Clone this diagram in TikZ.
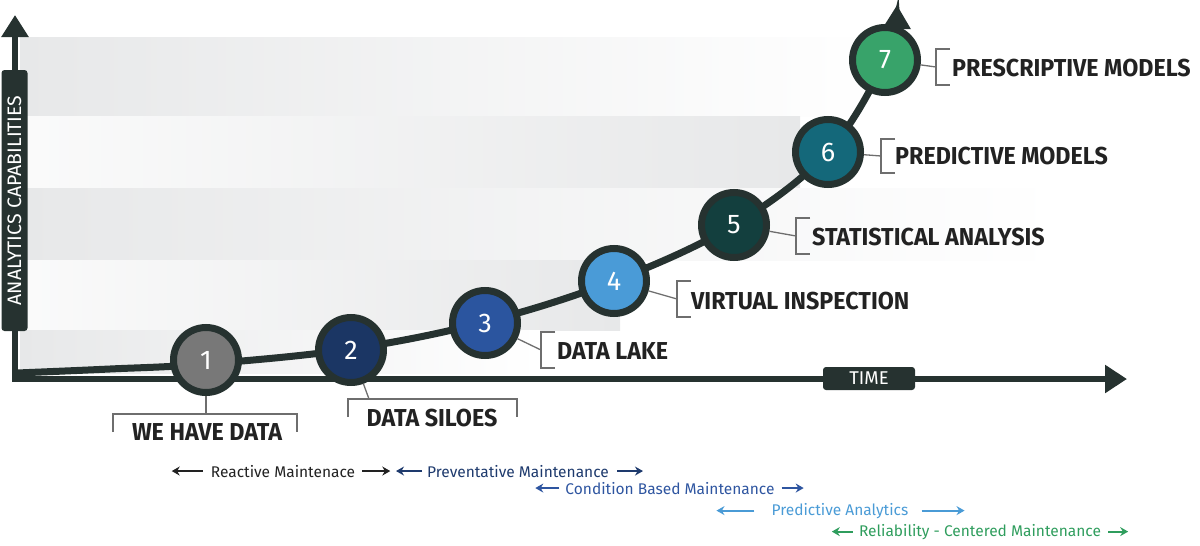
\documentclass[tikz,border=0pt]{standalone}
\usepackage{fontspec}
\setmainfont{Fira Sans}
\newfontfamily\lblfont{Fira Sans}[FakeStretch=0.95]
\usetikzlibrary{arrows.meta, positioning, calc}
\definecolor{axiscol}{RGB}{38,50,48}
\definecolor{bandgray}{RGB}{231,232,233}
\definecolor{brkgray}{RGB}{110,110,110}
\definecolor{lblcol}{RGB}{34,34,34}
\definecolor{st1}{RGB}{120,120,120}
\definecolor{st2}{RGB}{27,54,100}
\definecolor{st3}{RGB}{43,85,159}
\definecolor{st4}{RGB}{74,155,215}
\definecolor{st5}{RGB}{19,63,62}
\definecolor{st6}{RGB}{20,104,122}
\definecolor{st7}{RGB}{56,163,106}
\definecolor{reactcol}{RGB}{34,34,34}
\definecolor{prevcol}{RGB}{30,58,109}
\definecolor{condcol}{RGB}{46,85,160}
\definecolor{predcol}{RGB}{74,155,214}
\definecolor{relcol}{RGB}{47,157,93}
\tikzstyle{stage} = [circle, draw=axiscol, line width=7pt, minimum size=65pt, inner sep=0pt, text=white!88, font=\fontsize{27}{27}\selectfont]
\tikzstyle{brk} = [draw=brkgray, line width=1.3pt]
\tikzstyle{lbl} = [inner sep=0pt, text=lblcol, font=\lblfont\bfseries\fontsize{24.5}{25}\selectfont]
\tikzstyle{mtxt} = [inner sep=0pt, anchor=base, font=\fontsize{15.5}{16}\selectfont]
\tikzstyle{marr} = [line width=2.2pt, -{Stealth[length=8pt,width=9pt]}]
\tikzstyle{axis} = [draw=axiscol, line width=6.5pt, line join=miter]
\tikzstyle{tag} = [fill=axiscol, rounded corners=3pt, text=white, inner sep=0pt]

\begin{document}
\begin{tikzpicture}[x=1pt, y=-1pt]
    \useasboundingbox (0,0) rectangle (1200,546);
    % background bands
    \shade[left color=bandgray, right color=white] (20,37) rectangle (880,116);
    \shade[left color=bandgray!20, right color=bandgray] (20,116) rectangle (800,188);
    \shade[left color=bandgray, right color=white] (20,188) rectangle (1057,260);
    \shade[left color=bandgray!20, right color=bandgray] (20,260) rectangle (620,330);
    \shade[left color=bandgray, right color=white] (20,330) rectangle (540,373);

    % axes
    \coordinate (o) at (15,379);
    \coordinate (ytip) at (15,15);
    \coordinate (xtip) at (1127,379);
    \draw [axis, {Triangle[length=22pt,width=26pt]}-{Triangle[length=22pt,width=27pt]}] (ytip) -- (o) -- (xtip);
    \node (ylab) [tag, rotate=90, minimum width=261pt, minimum height=26pt, font=\fontsize{19.5}{20}\selectfont] at (14.5,200.5) {ANALYTICS CAPABILITIES};
    \node (xlab) [tag, minimum width=92pt, minimum height=23pt, font=\fontsize{18.5}{19}\selectfont] at (869,378.5) {TIME};

    % growth curve
    \draw [axiscol, line width=7pt, -{Triangle[length=24pt,width=27pt]}] plot [smooth, tension=0.6] coordinates {(17,373) (110,369) (206,364) (351,349) (485,322) (614,281) (734,225) (828,152) (885,60) (897,5)};

    % stages
    \node (n1) [stage, fill=st1] at (206,360) {1};
    \node (n2) [stage, fill=st2] at (351,350) {2};
    \node (n3) [stage, fill=st3] at (485,323) {3};
    \node (n4) [stage, fill=st4] at (614,281) {4};
    \node (n5) [stage, fill=st5] at (734,225) {5};
    \node (n6) [stage, fill=st6] at (828,152) {6};
    \node (n7) [stage, fill=st7] at (885,60) {7};

    % labels and brackets
    \node (t1) [lbl] at (207,432) {WE HAVE DATA};
    \coordinate (b1) at (206,414);
    \draw [brk] (n1) -- (b1);
    \draw [brk] ($(b1)+(-93,18)$) -- ++(0,-18) -- ++(184,0) -- ++(0,18);

    \node (t2) [lbl] at (432,418) {DATA SILOES};
    \coordinate (b2) at (369,399);
    \draw [brk] (n2) -- (b2);
    \draw [brk] ($(b2)+(-21,18)$) -- ++(0,-18) -- ++(169,0) -- ++(0,18);

    \node (t3) [lbl, anchor=west] at (557,351) {DATA LAKE};
    \coordinate (b3) at (541,350);
    \draw [brk] (n3) -- (b3);
    \draw [brk] ($(b3)+(14,-18)$) -| ($(b3)+(0,18)$) -- ++(14,0);

    \node (t4) [lbl, anchor=west] at (691,301) {VIRTUAL INSPECTION};
    \coordinate (b4) at (677,299);
    \draw [brk] (n4) -- (b4);
    \draw [brk] ($(b4)+(14,-18)$) -| ($(b4)+(0,18)$) -- ++(14,0);

    \node (t5) [lbl, anchor=west] at (812,237) {STATISTICAL ANALYSIS};
    \coordinate (b5) at (796,236);
    \draw [brk] (n5) -- (b5);
    \draw [brk] ($(b5)+(14,-18)$) -| ($(b5)+(0,18)$) -- ++(14,0);

    \node (t6) [lbl, anchor=west] at (895,156) {PREDICTIVE MODELS};
    \coordinate (b6) at (881,156);
    \draw [brk] (n6) -- (b6);
    \draw [brk] ($(b6)+(14,-17)$) -| ($(b6)+(0,17)$) -- ++(14,0);

    \node (t7) [lbl, anchor=west] at (952,68) {PRESCRIPTIVE MODELS};
    \coordinate (b7) at (936,67);
    \draw [brk] (n7) -- (b7);
    \draw [brk] ($(b7)+(14,-18)$) -| ($(b7)+(0,18)$) -- ++(14,0);

    % maintenance spans
    \node (m1) [mtxt, text=reactcol] at (283,477) {Reactive Maintenace};
    \draw [marr, reactcol] ([xshift=-8pt]m1.west) -- ++(-31,0);
    \draw [marr, reactcol] ([xshift=7pt]m1.east) -- ++(28,0);

    \node (m2) [mtxt, text=prevcol] at (518,477) {Preventative Maintenance};
    \draw [marr, prevcol] ([xshift=-5pt]m2.west) -- ++(-26,0);
    \draw [marr, prevcol] ([xshift=8pt]m2.east) -- ++(26,0);

    \node (m3) [mtxt, text=condcol] at (670,494) {Condition Based Maintenance};
    \draw [marr, condcol] ([xshift=-6pt]m3.west) -- ++(-24,0);
    \draw [marr, condcol] ([xshift=7pt]m3.east) -- ++(22,0);

    \node (m4) [mtxt, text=predcol] at (840,515) {Predictive Analytics};
    \draw [marr, predcol] ([xshift=-17pt]m4.west) -- ++(-38,0);
    \draw [marr, predcol] ([xshift=13pt]m4.east) -- ++(43,0);

    \node (m5) [mtxt, text=relcol] at (980,536) {Reliability - Centered Maintenance};
    \draw [marr, relcol] ([xshift=-6pt]m5.west) -- ++(-21,0);
    \draw [marr, relcol] ([xshift=7pt]m5.east) -- ++(20,0);
\end{tikzpicture}
\end{document}
